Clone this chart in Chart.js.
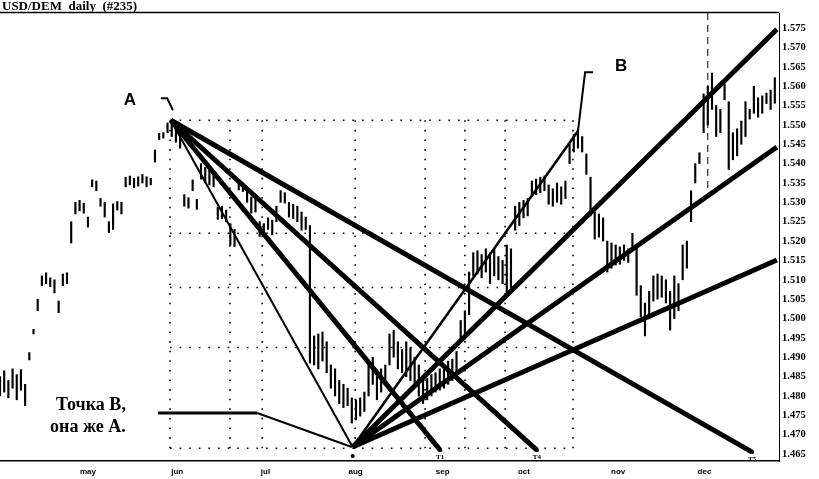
<!DOCTYPE html>
<html><head><meta charset="utf-8">
<script src="https://cdn.jsdelivr.net/npm/chart.js@4/dist/chart.umd.min.js"></script>
<style>html,body{margin:0;padding:0;background:#fff}canvas{display:block}</style>
</head><body>
<canvas id="c" width="819" height="479"></canvas>
<script>
// ---------------- data ----------------
const chartTitle = 'USD/DEM  daily  (#235)';
const monthLabels = ['may','jun','jul','aug','sep','oct','nov','dec'];
const monthDays = [21, 42.3, 63.4, 84.9, 105.7, 125.1, 147.6, 168.2];
const priceTicks = [1.465,1.470,1.475,1.480,1.485,1.490,1.495,1.500,1.505,1.510,1.515,1.520,1.525,1.530,1.535,1.540,1.545,1.550,1.555,1.560,1.565,1.570,1.575];

const barLows = [
1.4800,1.4810,1.4795,1.4820,1.4790,1.4815,1.4775,1.4893,1.4960,1.5020,
1.5085,1.5090,1.5082,1.5066,1.5015,1.5085,1.5090,1.5195,1.5270,1.5278,
1.5272,1.5236,1.5340,1.5330,1.5290,1.5262,1.5222,1.5230,1.5280,1.5270,
1.5340,1.5345,1.5338,1.5342,1.5350,1.5340,1.5345,1.5404,1.5462,1.5466,
1.5480,1.5470,1.5455,1.5440,1.5290,1.5285,1.5330,1.5282,1.5360,1.5350,
1.5345,1.5340,1.5256,1.5258,1.5250,1.5190,1.5186,1.5332,1.5328,1.5300,
1.5272,1.5275,1.5212,1.5215,1.5230,1.5216,1.5250,1.5300,1.5298,1.5262,
1.5258,1.5250,1.5228,1.5230,1.4885,1.4880,1.4870,1.4890,1.4860,1.4820,
1.4800,1.4780,1.4770,1.4775,1.4730,1.4738,1.4748,1.4760,1.4800,1.4830,
1.4790,1.4810,1.4830,1.4880,1.4900,1.4870,1.4860,1.4850,1.4840,1.4830,
1.4800,1.4780,1.4790,1.4800,1.4810,1.4815,1.4820,1.4830,1.4840,1.4850,
1.4945,1.4960,1.5010,1.5110,1.5115,1.5105,1.5120,1.5090,1.5110,1.5100,
1.5090,1.5055,1.5080,1.5228,1.5240,1.5260,1.5265,1.5315,1.5320,1.5325,
1.5330,1.5295,1.5290,1.5300,1.5295,1.5310,1.5400,1.5430,1.5440,1.5430,
1.5372,1.5265,1.5205,1.5210,1.5200,1.5120,1.5130,1.5138,1.5140,1.5150,
1.5145,1.5180,1.5060,1.5005,1.4955,1.5010,1.5045,1.5050,1.5055,1.5040,
1.4970,1.5000,1.5020,1.5100,1.5130,1.5250,1.5350,1.5400,1.5480,1.5500,
1.5540,1.5470,1.5480,1.5565,1.5385,1.5410,1.5420,1.5450,1.5470,1.5515,
1.5530,1.5520,1.5530,1.5555,1.5540,1.5556];
const barHighs = [
1.4850,1.4865,1.4840,1.4870,1.4855,1.4868,1.4830,1.4912,1.4972,1.5050,
1.5110,1.5118,1.5105,1.5100,1.5045,1.5115,1.5118,1.5250,1.5300,1.5305,
1.5298,1.5262,1.5358,1.5355,1.5310,1.5300,1.5250,1.5296,1.5302,1.5300,
1.5365,1.5368,1.5362,1.5366,1.5372,1.5366,1.5362,1.5435,1.5478,1.5480,
1.5505,1.5512,1.5500,1.5480,1.5320,1.5312,1.5358,1.5308,1.5400,1.5390,
1.5385,1.5375,1.5288,1.5290,1.5280,1.5245,1.5230,1.5357,1.5350,1.5330,
1.5314,1.5310,1.5250,1.5245,1.5260,1.5254,1.5290,1.5330,1.5325,1.5300,
1.5295,1.5290,1.5275,1.5262,1.5240,1.4955,1.4960,1.4965,1.4940,1.4880,
1.4870,1.4840,1.4830,1.4820,1.4795,1.4790,1.4795,1.4810,1.4880,1.4900,
1.4860,1.4870,1.4880,1.4960,1.4970,1.4940,1.4920,1.4940,1.4925,1.4900,
1.4880,1.4840,1.4845,1.4855,1.4860,1.4870,1.4880,1.4890,1.4895,1.4915,
1.4995,1.5020,1.5120,1.5170,1.5175,1.5165,1.5180,1.5170,1.5180,1.5160,
1.5150,1.5190,1.5180,1.5290,1.5300,1.5305,1.5310,1.5355,1.5360,1.5365,
1.5368,1.5345,1.5335,1.5350,1.5340,1.5355,1.5450,1.5475,1.5484,1.5470,
1.5425,1.5365,1.5275,1.5270,1.5260,1.5200,1.5195,1.5190,1.5185,1.5190,
1.5180,1.5220,1.5190,1.5085,1.5040,1.5070,1.5110,1.5115,1.5110,1.5100,
1.5070,1.5110,1.5090,1.5190,1.5200,1.5330,1.5400,1.5428,1.5580,1.5600,
1.5634,1.5550,1.5540,1.5605,1.5560,1.5480,1.5490,1.5510,1.5560,1.5540,
1.5600,1.5570,1.5575,1.5582,1.5590,1.5622];

// pivots of the fan construction
const pointA   = {x: 40.8,  y: 1.5512};
const pointLow = {x: 84.2,  y: 1.4668};
const pointB   = {x: 138.0, y: 1.5484};
const fanTargetsA   = [{x:105.1, y:1.4660}, {x:128.2, y:1.4660}, {x:179.6, y:1.4655}];
const fanTargetsLow = [{x:185.5, y:1.5747}, {x:185.5, y:1.5443}, {x:185.5, y:1.5151}];
const targetLabels  = ['T1','T4','T5'];

// Gann box grid
const gridDays   = [40.6, 54.9, 62.6, 84.8, 101.5, 111.0, 120.6, 136.8];
const gridPrices = [1.5512, 1.5220, 1.5080, 1.4925, 1.4665];

// annotation leaders
const leaderA     = [{x:38.4,y:1.5569},{x:39.9,y:1.5569},{x:41.3,y:1.5538}];
const leaderB     = [{x:141.6,y:1.5636},{x:139.7,y:1.5636},{x:138.0,y:1.5484}];
const leaderLowH  = [{x:37.7,y:1.4756},{x:61.4,y:1.4756}];
const leaderLowD  = [{x:61.4,y:1.4756},{x:84.0,y:1.4668}];

// ---------------- chart ----------------
const BLK = '#000';
const lineDs = (pts, w) => ({type:'line', data:pts, borderColor:BLK, borderWidth:w,
  pointRadius:0, fill:false, tension:0, order:0, borderCapStyle:'butt', borderJoinStyle:'miter'});

const datasets = [];
fanTargetsA.forEach(t => datasets.push(lineDs([pointA, t], 5)));
datasets.push(lineDs([pointA, pointLow], 2));
fanTargetsLow.forEach(t => datasets.push(lineDs([pointLow, t], 5)));
datasets.push(lineDs([pointLow, pointB], 2.5));
datasets.push(lineDs(leaderA, 2));
datasets.push(lineDs(leaderB, 2));
datasets.push(lineDs(leaderLowH, 3));
datasets.push(lineDs(leaderLowD, 2));
datasets.push({type:'bar', order:10, grouped:false,
  data: barLows.map((l,i)=>({x:i, y:[l, barHighs[i]]})),
  backgroundColor:BLK, borderWidth:0, barThickness:1.5});

const annot = {
  id:'annot',
  beforeDatasetsDraw(chart){
    const {ctx, scales:{x, y}, chartArea:ca} = chart;
    ctx.save();
    ctx.strokeStyle = BLK; ctx.lineWidth = 1.6; ctx.setLineDash([1.6, 8]);
    const d0 = x.getPixelForValue(gridDays[0]), d1 = x.getPixelForValue(gridDays[gridDays.length-1]);
    const p0 = y.getPixelForValue(gridPrices[0]), p1 = y.getPixelForValue(gridPrices[gridPrices.length-1]);
    gridPrices.forEach(p => { const py = y.getPixelForValue(p);
      ctx.beginPath(); ctx.moveTo(d0, py); ctx.lineTo(d1, py); ctx.stroke(); });
    gridDays.forEach(d => { const px = x.getPixelForValue(d);
      ctx.beginPath(); ctx.moveTo(px, p0); ctx.lineTo(px, p1); ctx.stroke(); });
    // dashed vertical in december
    ctx.setLineDash([7,5]); ctx.lineWidth = 1;
    const vx = x.getPixelForValue(169);
    ctx.beginPath(); ctx.moveTo(vx, ca.top); ctx.lineTo(vx, y.getPixelForValue(1.531)); ctx.stroke();
    ctx.restore();
  },
  afterDraw(chart){
    const {ctx, scales:{x, y}, chartArea:ca} = chart;
    ctx.save();
    ctx.fillStyle = BLK; ctx.strokeStyle = BLK;
    // title + top rule
    ctx.font = 'bold 13px "Liberation Serif"'; ctx.textBaseline = 'alphabetic'; ctx.textAlign = 'left';
    ctx.fillText(chartTitle, 2, 10);
    ctx.lineWidth = 1.5; ctx.beginPath(); ctx.moveTo(0, ca.top - 0.5); ctx.lineTo(ca.right, ca.top - 0.5); ctx.stroke();
    // labels
    ctx.textAlign = 'center'; ctx.textBaseline = 'middle';
    ctx.font = 'bold 17px "Liberation Sans"';
    ctx.fillText('A', x.getPixelForValue(31.0), y.getPixelForValue(1.5564));
    ctx.fillText('B', x.getPixelForValue(148.3), y.getPixelForValue(1.5652));
    ctx.font = 'bold 18px "Liberation Serif"';
    ctx.fillText('Точка В,', x.getPixelForValue(21.7), y.getPixelForValue(1.4776));
    ctx.fillText('она же А.', x.getPixelForValue(21.0), y.getPixelForValue(1.4720));
    ctx.font = 'bold 7px "Liberation Serif"';
    fanTargetsA.forEach((t,i) => {
      const px = x.getPixelForValue(t.x), py = y.getPixelForValue(t.y);
      ctx.fillText(targetLabels[i], px, py + 7);
      ctx.beginPath(); ctx.arc(px, py, 2, 0, Math.PI*2); ctx.fill();
    });
    ctx.beginPath(); ctx.arc(x.getPixelForValue(pointLow.x), y.getPixelForValue(1.4645), 2, 0, Math.PI*2); ctx.fill();
    ctx.restore();
  }
};

new Chart(document.getElementById('c'), {
  type:'bar',
  data:{datasets},
  options:{
    responsive:false, animation:false, devicePixelRatio:1,
    layout:{padding:{top:13, left:0, right:0, bottom:0}},
    plugins:{legend:{display:false}, tooltip:{enabled:false}, title:{display:false}},
    scales:{
      x:{type:'linear', min:0, max:186, offset:false,
        grid:{display:false, drawTicks:false},
        border:{display:true, color:BLK, width:1.5},
        afterBuildTicks(s){ s.ticks = monthDays.map(v=>({value:v})); },
        ticks:{autoSkip:false, maxRotation:0, padding:6, color:BLK,
          font:{family:'"Liberation Sans"', size:8, weight:'bold'},
          callback:(v,i)=>monthLabels[i]},
        afterFit(s){ s.height = 18; }
      },
      y:{type:'linear', position:'right', min:1.4632, max:1.5789,
        grid:{display:false, drawTicks:false},
        border:{display:true, color:BLK, width:1, dash:[6,4]},
        afterBuildTicks(s){ s.ticks = priceTicks.map(v=>({value:v})); },
        ticks:{autoSkip:false, padding:3, color:BLK,
          font:{family:'"Liberation Serif"', size:10.5, weight:'bold'},
          callback:v=>v.toFixed(3)},
        afterFit(s){ s.width = 40; }
      }
    }
  },
  plugins:[annot]
});
</script>
</body></html>
